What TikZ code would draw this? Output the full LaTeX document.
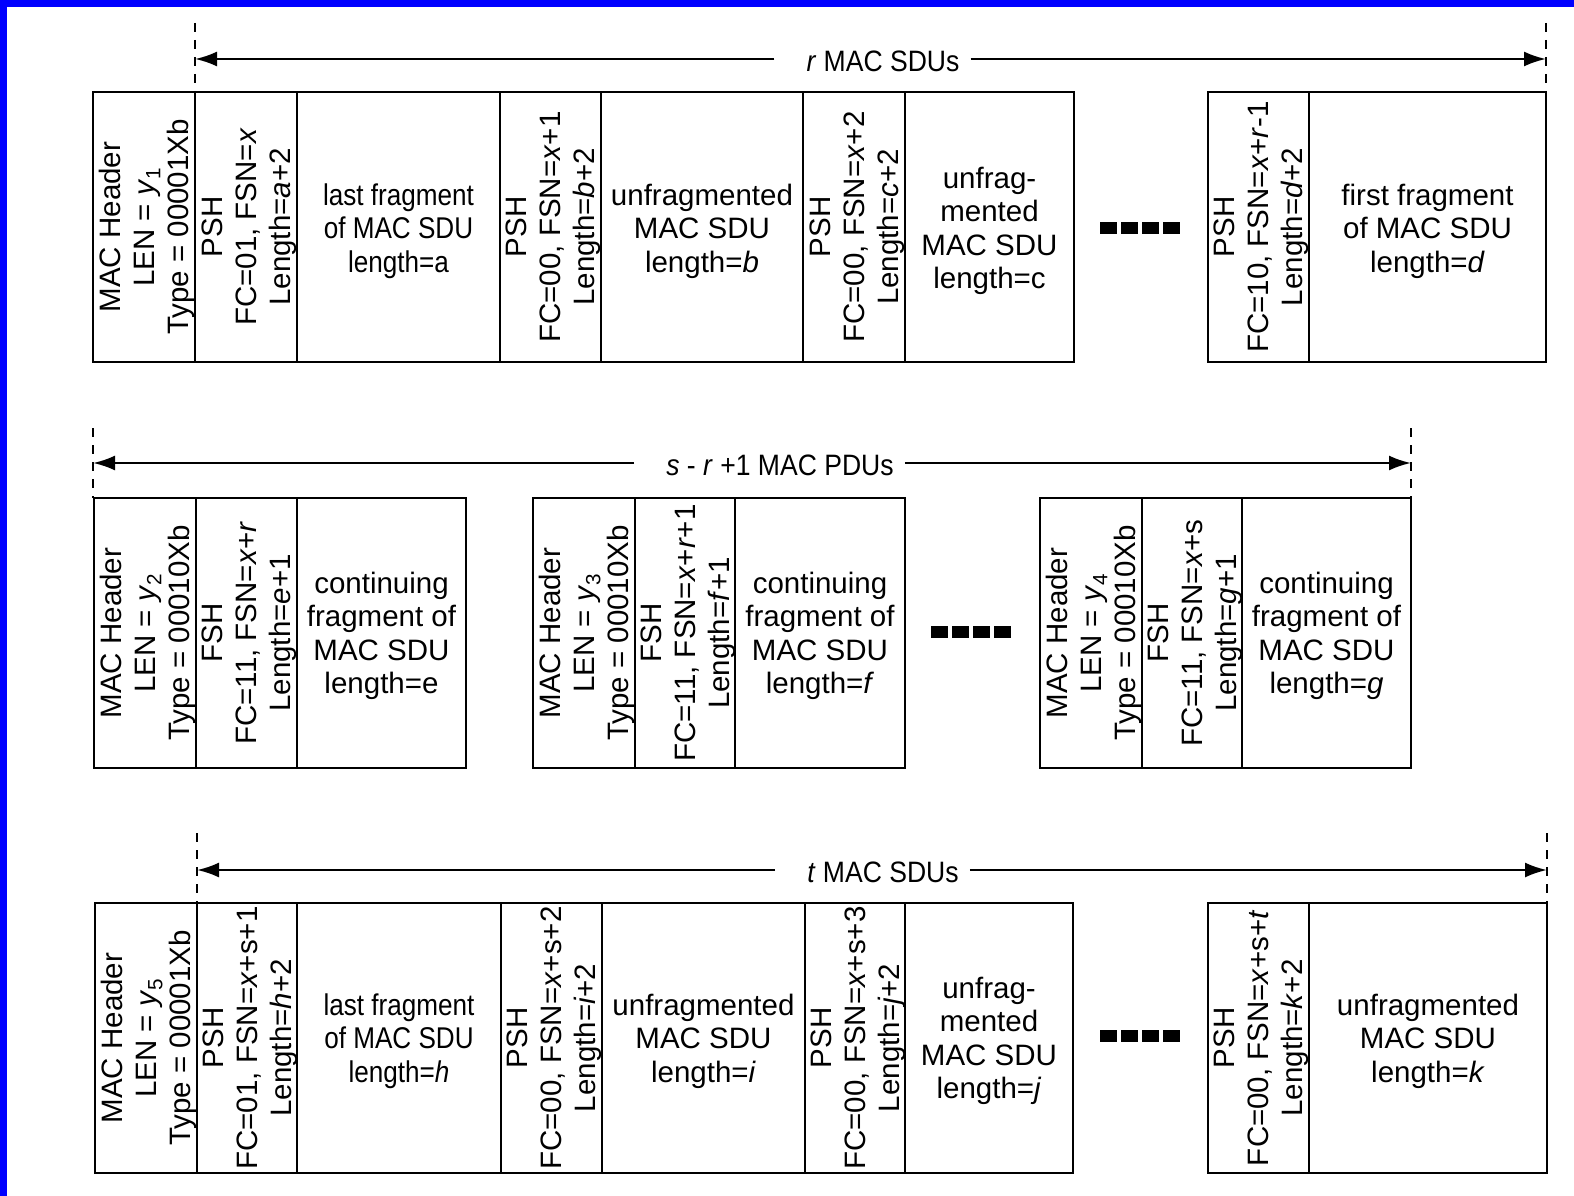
\documentclass[tikz,border=0pt]{standalone}
\usepackage{fontspec}
\setmainfont{Liberation Sans}
\newfontfamily\narrowfont[FakeStretch=0.87]{Liberation Sans}
\newfontfamily\labelfont[FakeStretch=0.9]{Liberation Sans}
\usetikzlibrary{arrows.meta}
\tikzset{
  txt/.style={font=\fontsize{29.5}{33.5}\selectfont, align=center, inner sep=0pt},
  ntxt/.style={font=\narrowfont\fontsize{30}{33.5}\selectfont, align=center, inner sep=0pt},
  vtxt/.style={font=\fontsize{29.5}{34}\selectfont, align=center, inner sep=0pt, rotate=90},
  frame/.style={line width=2.8pt},
  thicksep/.style={line width=2.8pt},
  midsep/.style={line width=2.1pt},
  thinsep/.style={line width=1.3pt},
  dimline/.style={line width=2.4pt, -{Latex[length=22pt,width=15pt]}},
  guide/.style={line width=2.8pt, dash pattern=on 9pt off 8pt},
  lab/.style={font=\labelfont\fontsize{29.5}{33.5}\selectfont, inner sep=0pt}
}
\newcommand{\dotrow}[2]{%
  \foreach \k in {0,1,2,3}{\fill ({#1-42+21*\k},{#2-6}) rectangle ++(17,12);}}
\begin{document}
\begin{tikzpicture}[x=1pt,y=-1pt]
\useasboundingbox (0,0) rectangle (1574,1196);
\fill[white] (0,0) rectangle (1574,1196);
\fill[blue] (0,0) rectangle (1574,7);
\fill[blue] (0,0) rectangle (7,1196);

% ================= ROW 1 =================
\coordinate (r1L) at (195,59);
\coordinate (r1R) at (1546,59);
\node[lab] (r1lab) at (883,61) {\textit{r} MAC SDUs};
\draw[dimline] ([xshift=-32pt]r1lab.west|-r1L) -- (r1L);
\draw[dimline] ([xshift=11pt]r1lab.east|-r1R) -- (r1R);
\draw[guide] (195,23) -- (195,92);
\draw[guide] (1546,23) -- (1546,92);

\draw[frame] (93,92) rectangle (1074,362);
\draw[thicksep] (195,92) -- (195,362);
\draw[thicksep] (297,92) -- (297,362);
\draw[thicksep] (500,92) -- (500,362);
\draw[thicksep] (601,92) -- (601,362);
\draw[thicksep] (803,92) -- (803,362);
\draw[midsep] (905,92) -- (905,362);
\draw[frame] (1208,92) rectangle (1546,362);
\draw[midsep] (1309,92) -- (1309,362);

\node[vtxt] (r1mac) at (147,227) {MAC Header\\LEN = \textit{y}\textsubscript{1}\\Type = 00001Xb};
\node[vtxt] (r1psh1) at (249,227) {PSH\\FC=01, FSN=\textit{x}\\Length=\textit{a}+2};
\node[ntxt] (r1sdu1) at (398.5,231) {last fragment\\of MAC SDU\\length=a};
\node[vtxt] (r1psh2) at (553.5,227) {PSH\\FC=00, FSN=\textit{x}+1\\Length=\textit{b}+2};
\node[txt] (r1sdu2) at (702,231) {unfragmented\\MAC SDU\\length=\textit{b}};
\node[vtxt] (r1psh3) at (857,227) {PSH\\FC=00, FSN=\textit{x}+2\\Length=\textit{c}+2};
\node[txt] (r1sdu3) at (989.5,231) {unfrag-\\mented\\MAC SDU\\length=c};
\dotrow{1142}{228}
\node[vtxt] (r1psh4) at (1261.5,227) {PSH\\FC=10, FSN=\textit{x}+\textit{r}-1\\Length=\textit{d}+2};
\node[txt] (r1sdu4) at (1427.5,231) {first fragment\\of MAC SDU\\length=\textit{d}};

% ================= ROW 2 =================
\coordinate (r2L) at (93,463);
\coordinate (r2R) at (1411,463);
\node[lab] (r2lab) at (780,465) {\textit{s} - \textit{r} +1 MAC PDUs};
\draw[dimline] ([xshift=-32pt]r2lab.west|-r2L) -- (r2L);
\draw[dimline] ([xshift=11pt]r2lab.east|-r2R) -- (r2R);
\draw[guide] (93,428) -- (93,498);
\draw[guide] (1411,428) -- (1411,498);

\draw[frame] (94,498) rectangle (466,768);
\draw[thinsep] (196,498) -- (196,768);
\draw[thicksep] (297,498) -- (297,768);
\draw[frame] (533,498) rectangle (905,768);
\draw[thinsep] (635,498) -- (635,768);
\draw[thicksep] (735,498) -- (735,768);
\draw[frame] (1040,498) rectangle (1411,768);
\draw[thinsep] (1142,498) -- (1142,768);
\draw[thicksep] (1242,498) -- (1242,768);

\node[vtxt] (r2mac1) at (148,633) {MAC Header\\LEN = \textit{y}\textsubscript{2}\\Type = 00010Xb};
\node[vtxt] (r2fsh1) at (249.5,633) {FSH\\FC=11, FSN=\textit{x}+\textit{r}\\Length=\textit{e}+1};
\node[txt] (r2sdu1) at (381.5,636) {continuing\\fragment of\\MAC SDU\\length=e};
\node[vtxt] (r2mac2) at (587,633) {MAC Header\\LEN = \textit{y}\textsubscript{3}\\Type = 00010Xb};
\node[vtxt] (r2fsh2) at (688,633) {FSH\\FC=11, FSN=\textit{x}+\textit{r}+1\\Length=\textit{f}+1};
\node[txt] (r2sdu2) at (820,636) {continuing\\fragment of\\MAC SDU\\length=\textit{f}};
\dotrow{973}{632}
\node[vtxt] (r2mac3) at (1094,633) {MAC Header\\LEN = \textit{y}\textsubscript{4}\\Type = 00010Xb};
\node[vtxt] (r2fsh3) at (1195,633) {FSH\\FC=11, FSN=\textit{x}+s\\Length=\textit{g}+1};
\node[txt] (r2sdu3) at (1326.5,636) {continuing\\fragment of\\MAC SDU\\length=\textit{g}};

% ================= ROW 3 =================
\coordinate (r3L) at (197,870);
\coordinate (r3R) at (1547,870);
\node[lab] (r3lab) at (883,872) {\textit{t} MAC SDUs};
\draw[dimline] ([xshift=-32pt]r3lab.west|-r3L) -- (r3L);
\draw[dimline] ([xshift=11pt]r3lab.east|-r3R) -- (r3R);
\draw[guide] (197,833) -- (197,903);
\draw[guide] (1547,833) -- (1547,903);

\draw[frame] (95,903) rectangle (1073,1173);
\draw[thicksep] (197,903) -- (197,1173);
\draw[thinsep] (297,903) -- (297,1173);
\draw[thicksep] (501,903) -- (501,1173);
\draw[thinsep] (602,903) -- (602,1173);
\draw[thicksep] (805,903) -- (805,1173);
\draw[thinsep] (905,903) -- (905,1173);
\draw[frame] (1208,903) rectangle (1547,1173);
\draw[thicksep] (1309,903) -- (1309,1173);

\node[vtxt] (r3mac) at (149,1038) {MAC Header\\LEN = \textit{y}\textsubscript{5}\\Type = 00001Xb};
\node[vtxt] (r3psh1) at (250,1038) {PSH\\FC=01, FSN=\textit{x}+s+1\\Length=\textit{h}+2};
\node[ntxt] (r3sdu1) at (399,1041) {last fragment\\of MAC SDU\\length=\textit{h}};
\node[vtxt] (r3psh2) at (554.5,1038) {PSH\\FC=00, FSN=\textit{x}+s+2\\Length=\textit{i}+2};
\node[txt] (r3sdu2) at (703.5,1041) {unfragmented\\MAC SDU\\length=\textit{i}};
\node[vtxt] (r3psh3) at (858,1038) {PSH\\FC=00, FSN=\textit{x}+s+3\\Length=\textit{j}+2};
\node[txt] (r3sdu3) at (989,1041) {unfrag-\\mented\\MAC SDU\\length=\textit{j}};
\dotrow{1142}{1036}
\node[vtxt] (r3psh4) at (1261.5,1038) {PSH\\FC=00, FSN=\textit{x}+s+\textit{t}\\Length=\textit{k}+2};
\node[txt] (r3sdu4) at (1428,1041) {unfragmented\\MAC SDU\\length=\textit{k}};
\end{tikzpicture}
\end{document}
